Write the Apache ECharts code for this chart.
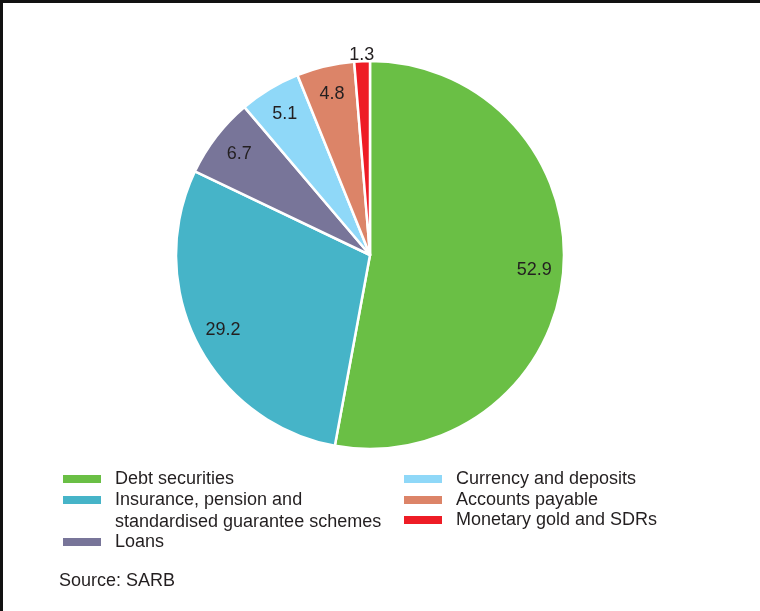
<!DOCTYPE html>
<html>
<head>
<meta charset="utf-8">
<script src="https://cdn.jsdelivr.net/npm/echarts@6/dist/echarts.min.js"></script>
<style>
html,body{margin:0;padding:0;background:#fff;}
#chart{width:760px;height:611px;}
</style>
</head>
<body>
<div id="chart"></div>
<script>
const categories = ['Debt securities', 'Insurance, pension and\nstandardised guarantee schemes', 'Loans', 'Currency and deposits', 'Accounts payable', 'Monetary gold and SDRs'];
const values = [52.9, 29.2, 6.7, 5.1, 4.8, 1.3];
const colors = ['#6ABF45', '#46B4C8', '#787599', '#8FD8F8', '#DC8468', '#EE1C25'];
const sourceText = 'Source: SARB';

const FONT = 'Liberation Sans';
const TXT = '#231F20';
const FS = 18;
const data = categories.map((c, i) => ({ name: c, value: values[i], itemStyle: { color: colors[i] } }));

const legendPos = [
  { left: 61, top: 469 },
  { left: 61, top: 467.5, two: true },
  { left: 61, top: 532 },
  { left: 402, top: 469 },
  { left: 402, top: 490 },
  { left: 402, top: 510 }
];
const legends = categories.map((c, i) => ({
  data: [c],
  left: legendPos[i].left,
  top: legendPos[i].top,
  padding: 0,
  itemWidth: 40,
  itemHeight: 10,
  itemGap: 0,
  icon: 'rect',
  selectedMode: false,
  orient: 'vertical',
  formatter: legendPos[i].two ? '\n{name}' : '{name}',
  textStyle: {
    fontSize: FS,
    color: TXT,
    fontFamily: FONT,
    lineHeight: legendPos[i].two ? 21.7 : 20,
    padding: [0, 0, 0, 8]
  }
}));

const chart = echarts.init(document.getElementById('chart'), null, { renderer: 'canvas' });
chart.setOption({
  animation: false,
  backgroundColor: '#fff',
  title: {
    text: sourceText,
    left: 59,
    top: 572,
    padding: 0,
    textStyle: { fontSize: FS, fontWeight: 'normal', color: TXT, fontFamily: FONT }
  },
  legend: legends,
  graphic: [{
    type: 'polyline',
    shape: { points: [[1.5, 611], [1.5, 1.5], [760, 1.5]] },
    style: { stroke: '#111', lineWidth: 3, fill: null },
    silent: true
  }],
  series: [
    {
      type: 'pie',
      center: [370, 255],
      radius: [0, 194],
      startAngle: 90,
      clockwise: true,
      label: { show: false },
      labelLine: { show: false },
      itemStyle: { borderColor: '#fff', borderWidth: 2.5 },
      emphasis: { disabled: true },
      data: data
    },
    {
      type: 'pie',
      center: [370, 255],
      radius: [130, 194],
      startAngle: 90,
      silent: true,
      legendHoverLink: false,
      itemStyle: { color: 'rgba(0,0,0,0)' },
      label: {
        show: true, position: 'inside', fontSize: FS, color: TXT, fontFamily: FONT,
        formatter: p => p.value < 2 ? '' : p.value.toFixed(1)
      },
      labelLine: { show: false },
      emphasis: { disabled: true },
      data: categories.map((c, i) => ({ name: c + ' ', value: values[i] }))
    },
    {
      type: 'pie',
      center: [370, 255],
      radius: [192, 203],
      startAngle: 90,
      silent: true,
      legendHoverLink: false,
      itemStyle: { color: 'rgba(0,0,0,0)' },
      label: {
        show: true, position: 'inside', fontSize: FS, color: TXT, fontFamily: FONT,
        formatter: p => p.value < 2 ? p.value.toFixed(1) : ''
      },
      labelLine: { show: false },
      emphasis: { disabled: true },
      data: categories.map((c, i) => ({ name: c + '  ', value: values[i] }))
    }
  ]
});
</script>
</body>
</html>
